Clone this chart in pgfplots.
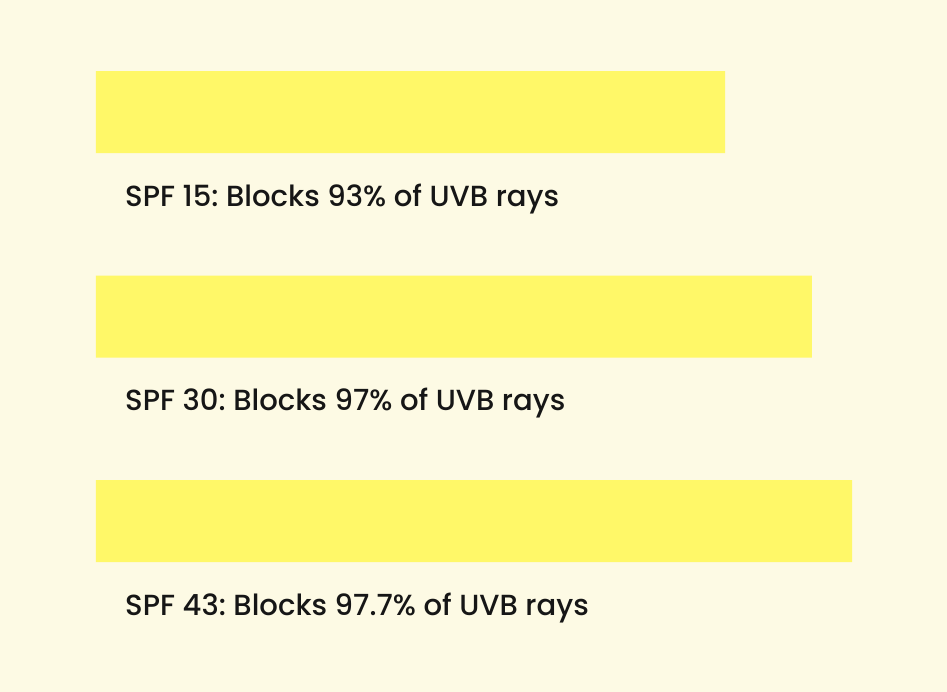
\documentclass[border=0pt]{standalone}
\usepackage{pgfplots}
\pgfplotsset{compat=1.18}
\usepackage{fontspec}
\setmainfont{Poppins Medium}
\frenchspacing

\definecolor{cream}{RGB}{253,250,228}
\definecolor{sunyellow}{RGB}{255,248,104}
\definecolor{inkblack}{RGB}{22,22,22}

\begin{document}
\begin{tikzpicture}
\begin{axis}[
  scale only axis,
  width=947bp, height=692bp,
  axis lines=none,
  ticks=none,
  axis background/.style={fill=cream},
  xbar,
  bar width=82bp,
  y dir=reverse,
  xmin=-12.698, xmax=112.566,
  ymin=-0.5477, ymax=2.8362,
  clip=false
]
\addplot [draw=none, fill=sunyellow] coordinates {
  (83.2,0)
  (94.7,1)
  (100,2)
};
\node[anchor=base west, inkblack, inner sep=0pt, font=\fontsize{29.1bp}{35bp}\selectfont]
  at (axis cs:3.84,0.4597) {SPF 15: Blocks 93\% of UVB rays};
\node[anchor=base west, inkblack, inner sep=0pt, font=\fontsize{29.1bp}{35bp}\selectfont]
  at (axis cs:3.84,1.4597) {SPF 30: Blocks 97\% of UVB rays};
\node[anchor=base west, inkblack, inner sep=0pt, font=\fontsize{29.1bp}{35bp}\selectfont]
  at (axis cs:3.84,2.4597) {SPF 43: Blocks 97.7\% of UVB rays};
\end{axis}
\end{tikzpicture}
\end{document}
